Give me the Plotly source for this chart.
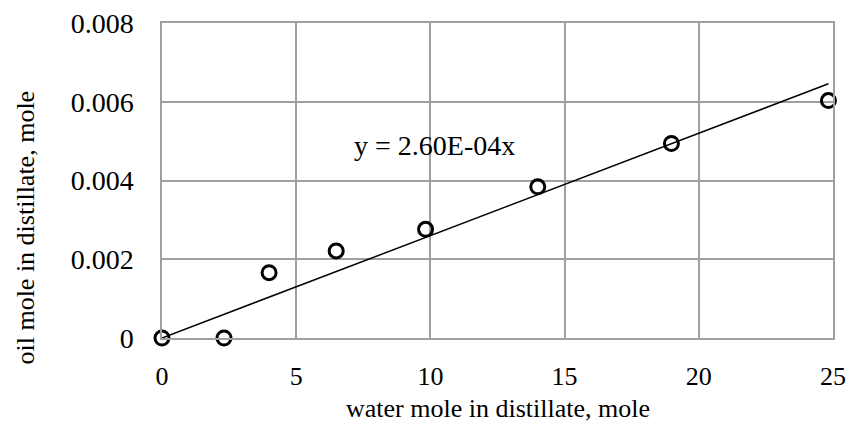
import plotly.graph_objects as go

water = [0, 2.31, 3.99, 6.49, 9.82, 14.0, 18.98, 24.83]
oil = [0, 0, 0.00166, 0.00221, 0.00276, 0.00384, 0.00494, 0.00603]
slope = 2.60e-4
x_ticks = [0, 5, 10, 15, 20, 25]
y_ticks = [0, 0.002, 0.004, 0.006, 0.008]
y_tick_text = ["0", "0.002", "0.004", "0.006", "0.008"]
eq_text = "y = 2.60E-04x"
x_title = "water mole in distillate, mole"
y_title = "oil mole in distillate, mole"

font = "Liberation Serif, Times New Roman, serif"

fig = go.Figure()
fig.add_trace(go.Scatter(
    x=[0, max(water)], y=[0, slope * max(water)], mode="lines",
    line=dict(color="black", width=1.5), hoverinfo="skip", showlegend=False))
fig.add_trace(go.Scatter(
    x=water, y=oil, mode="markers",
    marker=dict(symbol="circle-open", size=14, color="black", line=dict(width=3)),
    showlegend=False, cliponaxis=False))

fig.add_annotation(x=10.15, y=0.0049, text=eq_text, showarrow=False,
                   font=dict(family=font, size=28, color="black"))
# axis titles (placed like the reference)
fig.add_annotation(xref="paper", yref="paper", x=0.5, y=-0.274, text=x_title,
                   showarrow=False, xanchor="center", yanchor="bottom",
                   borderpad=0,
                   font=dict(family=font, size=26, color="black"))
fig.add_annotation(xref="paper", yref="paper", x=-0.203, y=0.35, text=y_title,
                   showarrow=False, textangle=-90, xanchor="center", yanchor="middle",
                   font=dict(family=font, size=26, color="black"))

fig.update_layout(
    width=847, height=425,
    margin=dict(l=162, r=14, t=23, b=87),
    paper_bgcolor="white", plot_bgcolor="white",
    font=dict(family=font, size=26, color="black"),
)
fig.update_xaxes(range=[0, 25], tickvals=x_ticks, showgrid=True, gridcolor="#a0a0a0",
                 gridwidth=1.5, zeroline=False, showline=True, linecolor="#a0a0a0",
                 linewidth=1.5, mirror=True, ticks="", ticklabelstandoff=14,
                 automargin=False, tickfont=dict(family=font, size=26))
fig.update_yaxes(range=[0, 0.008], tickvals=y_ticks, ticktext=y_tick_text, showgrid=True,
                 gridcolor="#a0a0a0", gridwidth=1.5, zeroline=False, showline=True,
                 linecolor="#a0a0a0", linewidth=1.5, mirror=True, ticks="",
                 ticklabelstandoff=21, automargin=False,
                 tickfont=dict(family=font, size=28))

fig.write_html("out.html")
